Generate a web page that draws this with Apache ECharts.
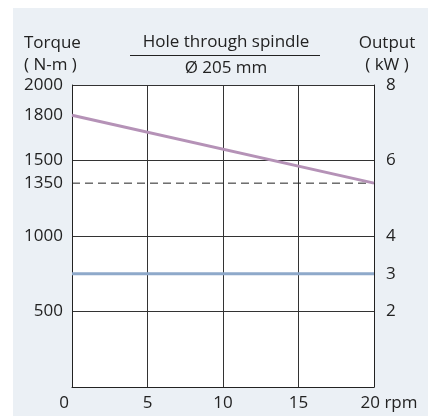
<!DOCTYPE html>
<html>
<head>
<meta charset="utf-8">
<script src="https://cdn.jsdelivr.net/npm/echarts@6/dist/echarts.min.js"></script>
<style>
  html, body { margin: 0; padding: 0; background: #fff; }
  #chart { width: 435px; height: 416px; }
</style>
</head>
<body>
<div id="chart"></div>
<script>
// spindle speed (rpm) at the two ends of the curves
const rpm = [0, 20];
const torque = [1800, 1350];       // N-m
const torqueLimit = [1350, 1350];  // N-m, dashed
const outputKW = [3, 3];           // kW

const xTicks = [0, 5, 10, 15, 20];
const torqueLabels = [500, 1000, 1350, 1500, 1800, 2000];
const outputLabels = [2, 3, 4, 6, 8];

const FONT = "Open Sans";
const FS = 17;
const txt = { fontFamily: FONT, fontSize: FS, color: "#222", fontWeight: "normal", lineHeight: 20 };

const chart = echarts.init(document.getElementById("chart"));

chart.setOption({
  animation: false,
  textStyle: { fontFamily: FONT },
  graphic: [
    { type: "rect", z: -10, shape: { x: 13, y: 8, width: 415, height: 408 }, style: { fill: "#EBF0F5" } },
    { type: "line", shape: { x1: 130, y1: 55.5, x2: 320, y2: 55.5 }, style: { stroke: "#222", lineWidth: 1 } },
  ],
  title: [
    { text: "Torque\n( N-m )", left: 24, top: 32, padding: 0, textStyle: Object.assign({}, txt, { lineHeight: 22 }) },
    { text: "Output\n( kW )", left: 387, top: 32, padding: 0, textAlign: "center", textStyle: Object.assign({}, txt, { lineHeight: 22, align: "center" }) },
    { text: "Hole through spindle", left: 226, top: 32, padding: 0, textAlign: "center", textStyle: txt },
    { text: "Ø 205 mm", left: 226, top: 58, padding: 0, textAlign: "center", textStyle: txt },
  ],
  grid: { left: 72, top: 85, right: 61, bottom: 29, show: true, backgroundColor: "#fff", borderWidth: 0 },
  xAxis: {
    type: "value",
    min: 0, max: 20, interval: 5,
    axisLine: { show: true, onZero: false, lineStyle: { color: "#222", width: 1 } },
    axisTick: { show: false },
    splitLine: { show: true, lineStyle: { color: "#333", width: 1 } },
    axisLabel: {
      margin: 8,
      fontFamily: FONT, fontSize: FS, color: "#222",
      formatter: function (v) {
        if (v === 20) return "{r|20 rpm}";
        if (v === 0) return "{z|0}";
        return String(v);
      },
      rich: {
        r: { fontFamily: FONT, fontSize: FS, color: "#222", padding: [0, 0, 0, 30] },
        z: { fontFamily: FONT, fontSize: FS, color: "#222", padding: [0, 16, 0, 0] },
      },
      customValues: xTicks,
    },
  },
  yAxis: [
    {
      type: "value",
      min: 0, max: 2000, interval: 500,
      axisLine: { show: true, lineStyle: { color: "#222", width: 1 } },
      axisTick: { show: false },
      splitLine: { show: true, lineStyle: { color: "#333", width: 1 } },
      axisLabel: {
        margin: 9, fontFamily: FONT, fontSize: FS, color: "#222",
        customValues: torqueLabels,
        formatter: function (v) { return String(v); },
      },
    },
    {
      type: "value",
      position: "right",
      min: 0, max: 8, interval: 2,
      axisLine: { show: true, lineStyle: { color: "#222", width: 1 } },
      axisTick: { show: false },
      splitLine: { show: false },
      axisLabel: {
        margin: 12, fontFamily: FONT, fontSize: FS, color: "#222",
        customValues: outputLabels,
        formatter: function (v) { return String(v); },
      },
    },
  ],
  series: [
    {
      name: "Torque limit",
      type: "line",
      z: 3,
      symbol: "none",
      data: rpm.map((x, i) => [x, torqueLimit[i]]),
      lineStyle: { color: "#222", width: 1, type: [8, 5] },
    },
    {
      name: "Torque",
      type: "line",
      z: 4,
      symbol: "none",
      data: rpm.map((x, i) => [x, torque[i]]),
      lineStyle: { color: "#B592B7", width: 3 },
    },
    {
      name: "Output",
      type: "line",
      yAxisIndex: 1,
      z: 4,
      symbol: "none",
      data: rpm.map((x, i) => [x, outputKW[i]]),
      lineStyle: { color: "#8EA9CA", width: 3 },
    },
  ],
});
</script>
</body>
</html>
